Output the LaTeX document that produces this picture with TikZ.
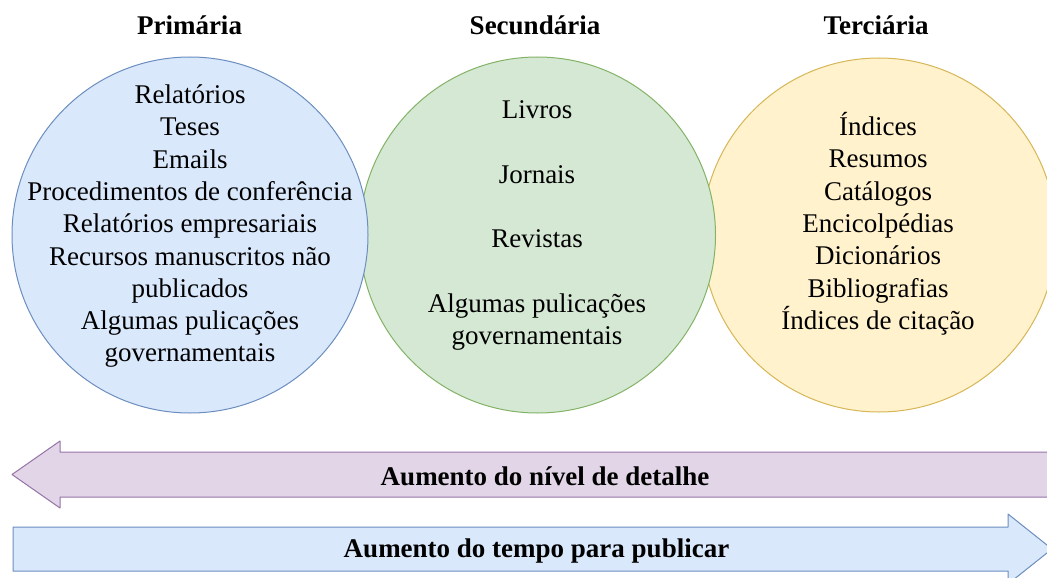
\documentclass[tikz,border=0pt]{standalone}
\usepackage{fontspec}
\setmainfont{Liberation Serif}
\definecolor{bluefill}{HTML}{DAE8FC}
\definecolor{bluedraw}{HTML}{6C8EBF}
\definecolor{greenfill}{HTML}{D5E8D4}
\definecolor{greendraw}{HTML}{82B366}
\definecolor{yellowfill}{HTML}{FFF2CC}
\definecolor{yellowdraw}{HTML}{D6B656}
\definecolor{purplefill}{HTML}{E1D5E7}
\definecolor{purpledraw}{HTML}{9673A6}
\begin{document}
\begin{tikzpicture}[x=1pt,y=-1pt,
  body/.style={font=\fontsize{27}{32.3}\selectfont, align=center, inner sep=0pt, anchor=north},
  heading/.style={font=\fontsize{27}{32}\selectfont\bfseries, inner sep=0pt, anchor=base},
  shapeline/.style={line width=1pt, line join=round}]
\useasboundingbox (0,0) rectangle (1047,578);
\begin{scope}
\clip (0,0) rectangle (1047,578);
\draw[shapeline, fill=yellowfill, draw=yellowdraw] (879,235) circle[radius=177pt];
\draw[shapeline, fill=greenfill, draw=greendraw] (537.5,235) circle[radius=178pt];
\draw[shapeline, fill=bluefill, draw=bluedraw] (190,235) circle[radius=178pt];
\draw[shapeline, fill=purplefill, draw=purpledraw] (12,474.5) -- (60,441) -- (60,452) -- (1060,452) -- (1060,497) -- (60,497) -- (60,508) -- cycle;
\draw[shapeline, fill=bluefill, draw=bluedraw] (13,527) -- (1008,527) -- (1008,514) -- (1052,549) -- (1008,584) -- (1008,571) -- (13,571) -- cycle;
\end{scope}
\node[heading] (t1) at (189.5,35) {Primária};
\node[heading] (t2) at (535,35) {Secundária};
\node[heading] (t3) at (876,35) {Terciária};
\node[body] (b1) at (190,84.6) {Relatórios\\Teses\\Emails\\Procedimentos de conferência\\Relatórios empresariais\\Recursos manuscritos não\\publicados\\Algumas pulicações\\governamentais};
\node[body] (b2) at (537,100.6) {Livros\\[32.3pt]Jornais\\[32.3pt]Revistas\\[32.3pt]Algumas pulicações\\governamentais};
\node[body] (b3) at (878,112.2) {Índices\\Resumos\\Catálogos\\Encicolpédias\\Dicionários\\Bibliografias\\Índices de citação};
\node[heading] (a1) at (545,485) {Aumento do nível de detalhe};
\node[heading] (a2) at (536.5,557) {Aumento do tempo para publicar};
\end{tikzpicture}
\end{document}
